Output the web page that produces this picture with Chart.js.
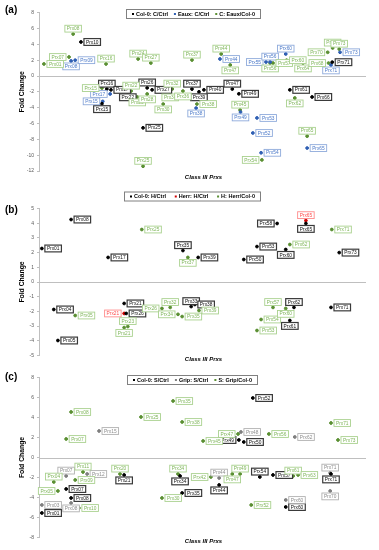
<!DOCTYPE html>
<html><head><meta charset="utf-8">
<script src="https://cdn.jsdelivr.net/npm/chart.js@4.4.1/dist/chart.umd.min.js"></script>
<style>
html,body{margin:0;padding:0;background:#fff;}
#wrap{position:relative;width:379px;height:550px;overflow:hidden;}
canvas{position:absolute;left:0;}
</style></head>
<body><div id="wrap">
<canvas id="ca" width="379" height="182" style="top:0px"></canvas>
<canvas id="cb" width="379" height="180" style="top:182px"></canvas>
<canvas id="cc" width="379" height="188" style="top:362px"></canvas>
</div>
<script>
// ---------------- DATA ----------------
// Panel (a)
const aLegend = ['Col-0: C/Ctrl', 'Eaux: C/Ctrl', 'C: Eaux/Col-0'];
const aTicks = [8, 6, 4, 2, 0, -2, -4, -6, -8, -10, -12];
const aColNames = ['Prx10','Prx15','Prx16','Prx17','Prx22','Prx25','Prx26','Prx27','Prx37','Prx39','Prx40','Prx47','Prx49','Prx61','Prx66','Prx71'];
const aColX = [10.2, 15.3, 16.5, 17.5, 21.6, 25.3, 26.3, 27.5, 37.2, 38.9, 40.1, 47.0, 48.6, 61.0, 66.4, 71.3];
const aColY = [4.3, -3.5, -1.65, -1.75, -2.0, -6.55, -1.5, -1.75, -1.65, -2.0, -1.75, -1.65, -2.25, -1.75, -2.65, 1.75];
const aEauxNames = ['Prx08','Prx09','Prx15','Prx17','Prx38','Prx44','Prx49','Prx52','Prx53','Prx54','Prx55','Prx56','Prx60','Prx65','Prx71','Prx73'];
const aEauxX = [7.8, 8.8, 15.5, 17.3, 38.2, 44.0, 49.0, 52.0, 53.0, 54.0, 55.2, 56.2, 60.0, 65.2, 71.0, 73.2];
const aEauxY = [1.9, 2.0, -3.2, -2.27, -4.05, 2.15, -4.55, -7.2, -5.3, -9.7, 1.77, 1.77, 2.78, -9.1, 1.39, 3.0];
const aDiffNames = ['Prx01','Prx07','Prx08','Prx15','Prx16','Prx22','Prx23','Prx24','Prx25','Prx27','Prx28','Prx30','Prx32','Prx34','Prx36','Prx37','Prx38','Prx44','Prx45','Prx47','Prx54','Prx56','Prx57','Prx60','Prx62','Prx64','Prx65','Prx68','Prx70','Prx72','Prx73'];
const aDiffX = [1.2, 7.3, 8.3, 15.3, 16.3, 22.4, 23.9, 24.1, 25.3, 27.2, 26.3, 30.2, 32.4, 31.9, 35.0, 37.2, 38.4, 44.3, 48.9, 46.5, 54.2, 56.2, 56.9, 60.2, 62.2, 64.2, 65.2, 70.4, 70.2, 71.4, 73.0];
const aDiffY = [1.52, 2.4, 5.3, -1.52, 1.52, -1.9, -2.65, 2.15, -11.4, 1.64, -2.27, -3.54, -1.64, -2.02, -1.9, 2.02, -3.54, 2.78, -4.3, 1.39, -10.6, 1.64, 1.64, 2.0, -2.78, 1.64, -7.6, 1.64, 3.0, 3.54, 3.4];

// Panel (b)
const bLegend = ['Col-0: H/Ctrl', 'Herr: H/Ctrl', 'H: Herr/Col-0'];
const bTicks = [5, 4, 3, 2, 1, 0, -1, -2, -3, -4, -5];
const bColNames = ['Prx01','Prx04','Prx05','Prx08','Prx17','Prx21','Prx26','Prx33','Prx35','Prx38','Prx39','Prx50','Prx53','Prx58','Prx60','Prx61','Prx62','Prx65','Prx71','Prx73'];
const bColX = [0.7, 3.6, 4.6, 7.8, 16.8, 20.7, 21.2, 37.0, 35.0, 37.9, 38.7, 49.8, 53.0, 57.9, 60.0, 61.0, 62.0, 64.9, 71.0, 73.0];
const bColY = [2.28, -1.87, -3.98, 4.25, 1.67, -1.46, -2.14, -1.67, 2.14, -1.53, 1.67, 1.53, 2.41, 3.98, 2.21, -2.62, -1.73, 3.98, -1.73, 2.0];
const bHerrNames = ['Prx21','Prx65'];
const bHerrX = [20.7, 64.9];
const bHerrY = [-2.14, 4.18];
const bDiffNames = ['Prx05','Prx21','Prx23','Prx25','Prx26','Prx32','Prx34','Prx35','Prx37','Prx39','Prx53','Prx54','Prx57','Prx60','Prx62','Prx71'];
const bDiffX = [8.8, 20.7, 21.6, 25.0, 29.9, 31.9, 33.8, 34.8, 36.2, 38.9, 53.0, 54.0, 56.9, 60.0, 61.0, 71.2];
const bDiffY = [-2.28, -3.1, -3.03, 3.57, -1.8, -1.73, -2.2, -2.35, 1.67, -1.94, -3.3, -2.55, -1.73, -1.8, 2.55, 3.57];

// Panel (c)
const cLegend = ['Col-0: S/Ctrl', 'Grip: S/Ctrl', 'S: Grip/Col-0'];
const cTicks = [8, 6, 4, 2, 0, -2, -4, -6, -8];
const cColNames = ['Prx01','Prx07','Prx08','Prx21','Prx34','Prx35','Prx44','Prx49','Prx50','Prx52','Prx54','Prx57','Prx60','Prx71'];
const cColX = [0.7, 6.6, 7.8, 20.7, 34.3, 34.8, 43.8, 48.6, 49.8, 52.0, 53.7, 56.9, 60.0, 71.0];
const cColY = [-5.55, -3.15, -4.05, -1.75, -1.85, -3.55, -2.75, 1.75, 1.55, 5.95, -1.95, -1.75, -4.95, -1.65];
const cGripNames = ['Prx03','Prx07','Prx08','Prx12','Prx15','Prx44','Prx48','Prx60','Prx62','Prx70','Prx71'];
const cGripX = [0.7, 6.6, 7.8, 11.7, 14.6, 43.8, 49.1, 60.0, 62.2, 70.8, 70.8];
const cGripY = [-4.75, -1.85, -4.55, -1.65, 2.65, -2.05, 2.55, -4.25, 2.05, -3.35, -1.55];
const cDiffNames = ['Prx04','Prx05','Prx07','Prx08','Prx09','Prx10','Prx11','Prx20','Prx25','Prx30','Prx34','Prx35','Prx38','Prx42','Prx45','Prx47','Prx47','Prx49','Prx52','Prx56','Prx61','Prx63','Prx71','Prx73'];
const cDiffX = [3.6, 4.6, 6.6, 7.8, 8.8, 9.7, 10.7, 19.7, 24.8, 29.9, 33.8, 32.6, 34.8, 41.8, 39.9, 47.0, 48.4, 48.9, 51.6, 55.9, 61.8, 63.0, 71.0, 72.7];
const cDiffY = [-2.45, -3.35, 1.85, 4.55, -2.25, -5.05, -1.45, -1.65, 4.05, -4.05, -1.65, 5.65, 3.55, -1.95, 1.65, -1.65, 2.35, -1.65, -4.75, 2.35, -1.85, -1.75, 3.45, 1.75];

// ---------------- LABEL PLACEMENT (style) ----------------
// r = right of point, l = left, t = above, b = below
const aColSide  = ['r','b','t','r','b','r','t','r','t','b','r','t','r','r','r','r'];
const aEauxSide = ['b','r','l','l','b','r','b','r','r','r','l','t','t','r','b','r'];
const aDiffSide = ['r','l','t','l','t','t','b','t','t','t','b','b','t','b','b','t','r','t','t','b','l','b','r','r','b','b','t','l','l','t','t'];
const bColSide  = ['r','r','r','r','r','r','r','t','t','r','r','r','r','l','b','b','t','b','r','r'];
const bHerrSide = ['l','t'];
const bDiffSide = ['r','b','t','r','l','t','l','r','b','r','r','r','t','b','r','r'];
const cColSide  = ['r','r','r','b','b','r','b','l','r','r','t','r','r','b'];
const cGripSide = ['r','t','b','r','r','t','r','r','r','b','t'];
const cDiffSide = ['t','l','r','r','r','r','t','t','r','r','t','r','r','l','r','b','l','t','r','r','t','r','r','r'];

// ---------------- STYLES ----------------
const STY = {
  black: {point:'#000000', box:'#3a3a3a', text:'#111111', lw:1.2},
  blue:  {point:'#2f5fb3', box:'#8eaadb', text:'#4a78c8', lw:0.9},
  green: {point:'#5a8f32', box:'#a9d18e', text:'#7fb55a', lw:0.9},
  red:   {point:'#d00000', box:'#ff8b8b', text:'#ff4d4d', lw:0.9},
  gray:  {point:'#7f7f7f', box:'#b0b0b0', text:'#8c8c8c', lw:0.9}
};
const FONT = '"Liberation Sans", Arial, sans-serif';

function mkDs(label, names, xs, ys, sides, sty){
  return {
    label, names, sides, sty,
    data: xs.map((x,i)=>({x:x, y:ys[i]})),
    backgroundColor: sty.point, borderColor: sty.point,
    pointRadius: 1.4, pointHoverRadius: 1.4, showLine:false
  };
}

const boxLabels = {
  id:'boxLabels',
  afterDatasetsDraw(chart){
    const ctx = chart.ctx;
    chart.data.datasets.forEach((ds,di)=>{
      const meta = chart.getDatasetMeta(di);
      ctx.save();
      ctx.font = '4.8px ' + FONT;
      meta.data.forEach((pt,i)=>{
        const name = ds.names[i], side = ds.sides[i];
        const w = ctx.measureText(name).width + 4, h = 6.8;
        const px = pt.x, py = pt.y;
        let bx, by;
        if (side==='r'){ bx = px+3; by = py-h/2; }
        else if (side==='l'){ bx = px-3-w; by = py-h/2; }
        else if (side==='t'){ bx = px-w/2; by = py-2-h; }
        else { bx = px-w/2; by = py+2; }
        ctx.fillStyle = '#ffffff';
        ctx.fillRect(bx,by,w,h);
        ctx.strokeStyle = ds.sty.box; ctx.lineWidth = ds.sty.lw;
        ctx.strokeRect(bx,by,w,h);
        ctx.fillStyle = ds.sty.text; ctx.textAlign='center'; ctx.textBaseline='middle';
        ctx.fillText(name, bx+w/2, by+h/2+0.3);
      });
      ctx.restore();
    });
  }
};

function decor(cfg){
  return {
    id:'decor',
    beforeDatasetsDraw(chart){
      const ctx = chart.ctx, a = chart.chartArea, ys = chart.scales.y;
      const y0 = ys.getPixelForValue(0);
      ctx.save();
      ctx.strokeStyle = '#bfbfbf'; ctx.lineWidth = 1;
      ctx.beginPath(); ctx.moveTo(a.left, Math.round(y0)+0.5); ctx.lineTo(a.right-2, Math.round(y0)+0.5); ctx.stroke();
      ctx.restore();
    },
    afterDraw(chart){
      const ctx = chart.ctx, a = chart.chartArea;
      ctx.save();
      ctx.fillStyle='#000'; ctx.font='bold 10px ' + FONT; ctx.textAlign='left'; ctx.textBaseline='middle';
      ctx.fillText(cfg.panel, 5, cfg.panelY);
      ctx.save();
      ctx.translate(22, (a.top+a.bottom)/2);
      ctx.rotate(-Math.PI/2);
      ctx.font='bold 6.8px ' + FONT; ctx.textAlign='center'; ctx.textBaseline='middle';
      ctx.fillText('Fold Change', 0, 0);
      ctx.restore();
      ctx.font='italic bold 6px ' + FONT; ctx.textAlign='center'; ctx.textBaseline='middle';
      ctx.fillText('Class III Prxs', (a.left+a.right)/2, cfg.xTitleY);
      const L = cfg.legend;
      ctx.fillStyle='#fff'; ctx.fillRect(L.x, L.y, L.w, L.h);
      ctx.strokeStyle='#808080'; ctx.lineWidth=1;
      ctx.strokeRect(L.x+0.5, L.y+0.5, L.w-1, L.h-1);
      ctx.font='bold 5.5px ' + FONT; ctx.textBaseline='middle'; ctx.textAlign='left';
      const items = chart.data.datasets.map(d=>({t:d.label, c:d.sty.point}));
      const widths = items.map(it=>ctx.measureText(it.t).width + 4);
      const total = widths.reduce((s,v)=>s+v,0);
      const gap = (L.w - 12 - total)/(items.length-1);
      let x = L.x + 6;
      const cy = L.y + L.h/2;
      items.forEach((it,i)=>{
        ctx.fillStyle = it.c; ctx.fillRect(x, cy-1, 2, 2);
        ctx.fillStyle = '#000'; ctx.fillText(it.t, x+4, cy+0.3);
        x += widths[i] + gap;
      });
      ctx.restore();
    }
  };
}

function makeChart(id, datasets, ymin, ymax, step, pad, cfg){
  return new Chart(document.getElementById(id), {
    type:'scatter',
    data:{datasets},
    options:{
      responsive:false, animation:false, devicePixelRatio:1,
      layout:{padding:pad},
      plugins:{legend:{display:false}, tooltip:{enabled:false}},
      scales:{
        x:{type:'linear', min:0, max:80, display:false},
        y:{min:ymin, max:ymax,
           ticks:{stepSize:step, font:{size:5, family:FONT}, color:'#595959', padding:3},
           grid:{display:true, drawOnChartArea:false, drawTicks:true, tickLength:2, color:'#bfbfbf'},
           border:{display:true, color:'#bfbfbf', width:1},
           afterFit(s){ s.width = 12; }
        }
      }
    },
    plugins:[decor(cfg), boxLabels]
  });
}

makeChart('ca', [
  mkDs(aLegend[0], aColNames, aColX, aColY, aColSide, STY.black),
  mkDs(aLegend[1], aEauxNames, aEauxX, aEauxY, aEauxSide, STY.blue),
  mkDs(aLegend[2], aDiffNames, aDiffX, aDiffY, aDiffSide, STY.green)
], aTicks[aTicks.length-1], aTicks[0], 2, {left:27, right:11, top:12.7, bottom:11},
{panel:'(a)', panelY:10, xTitleY:177, legend:{x:126, y:9, w:135, h:10}});

makeChart('cb', [
  mkDs(bLegend[0], bColNames, bColX, bColY, bColSide, STY.black),
  mkDs(bLegend[1], bHerrNames, bHerrX, bHerrY, bHerrSide, STY.red),
  mkDs(bLegend[2], bDiffNames, bDiffX, bDiffY, bDiffSide, STY.green)
], bTicks[bTicks.length-1], bTicks[0], 1, {left:27, right:11, top:26.5, bottom:6.5},
{panel:'(b)', panelY:28, xTitleY:177, legend:{x:124, y:9.5, w:137, h:10}});

makeChart('cc', [
  mkDs(cLegend[0], cColNames, cColX, cColY, cColSide, STY.black),
  mkDs(cLegend[1], cGripNames, cGripX, cGripY, cGripSide, STY.gray),
  mkDs(cLegend[2], cDiffNames, cDiffX, cDiffY, cDiffSide, STY.green)
], cTicks[cTicks.length-1], cTicks[0], 2, {left:27, right:11, top:15.5, bottom:12.5},
{panel:'(c)', panelY:15, xTitleY:179.5, legend:{x:127, y:13, w:131, h:10}});
</script>
</body></html>
